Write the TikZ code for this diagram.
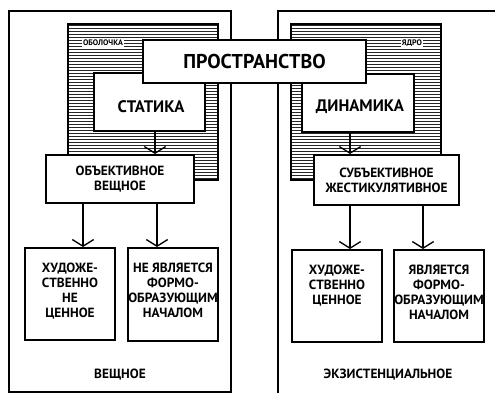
\documentclass[tikz,border=0pt]{standalone}
\usepackage{fontspec}
\setmainfont{PT Sans}
\usetikzlibrary{arrows.meta}

\begin{document}
\begin{tikzpicture}[x=0.75pt,y=-0.75pt,
  box/.style={draw,line width=1.5pt,fill=white,inner sep=0pt},
  big/.style={font=\bfseries\fontsize{12.5}{14}\selectfont,inner sep=0pt},
  lbl/.style={font=\bfseries\fontsize{10}{11.2}\selectfont,align=center,inner sep=0pt},
  tiny/.style={font=\bfseries\fontsize{6}{6}\selectfont,fill=white,inner sep=1pt},
  arr/.style={line width=1pt,-{Straight Barb[length=5pt,width=16pt]}}]
  \useasboundingbox[fill=white] (0,0) rectangle (495,393);
  % outer frames
  \draw[line width=1.2pt] (9,11) rectangle (231,392);
  \draw[line width=1.2pt] (278,393) -- (278,11) -- (495,11);
  % hatched areas
  \foreach \y in {25,28,...,179} {
    \draw[line width=0.4pt,black!85] (68,\y) -- (218,\y);
    \draw[line width=0.4pt,black!85] (291,\y) -- (441,\y);
  }
  \draw[line width=0.8pt] (68,24) rectangle (218,180);
  \draw[line width=0.8pt] (291,24) rectangle (441,180);
  \node[tiny] (shell) at (103,43) {ОБОЛОЧКА};
  \node[tiny] (core) at (412,43) {ЯДРО};
  % second row
  \node[box,minimum width=111*0.75pt,minimum height=58*0.75pt] (statika) at (149.5,102) {};
  \node[big] (statikatext) at (151,107) {СТАТИКА};
  \node[box,minimum width=112*0.75pt,minimum height=58*0.75pt] (dinamika) at (358,103) {};
  \node[big] (dinamikatext) at (360,107) {ДИНАМИКА};
  % top
  \node[box,line width=2.2pt,minimum width=223*0.75pt,minimum height=43*0.75pt,
        font=\bfseries\fontsize{15}{17}\selectfont] (space) at (254.5,61.5) {ПРОСТРАНСТВО};
  % third row
  \node[box,lbl,minimum width=148*0.75pt,minimum height=48*0.75pt] (obj) at (120,179)
    {ОБЪЕКТИВНОЕ\\ВЕЩНОЕ};
  \node[box,lbl,minimum width=145*0.75pt,minimum height=50*0.75pt] (subj) at (386.5,180)
    {СУБЪЕКТИВНОЕ\\ЖЕСТИКУЛЯТИВНОЕ};
  % bottom row
  \node[box,minimum width=90*0.75pt,minimum height=92*0.75pt] (art1) at (70,294) {};
  \node[lbl,anchor=north] (art1text) at ([yshift=-12pt]art1.north) {ХУДОЖЕ-\\СТВЕННО\\НЕ\\ЦЕННОЕ};
  \node[box,minimum width=90*0.75pt,minimum height=93*0.75pt] (form1) at (173,294.5) {};
  \node[lbl,anchor=north] (form1text) at ([yshift=-12pt]form1.north) {НЕ ЯВЛЯЕТСЯ\\ФОРМО-\\ОБРАЗУЮЩИМ\\НАЧАЛОМ};
  \node[box,minimum width=90*0.75pt,minimum height=92*0.75pt] (art2) at (337,296) {};
  \node[lbl,anchor=north] (art2text) at ([yshift=-12pt]art2.north) {ХУДОЖЕ-\\СТВЕННО\\ЦЕННОЕ};
  \node[box,minimum width=90*0.75pt,minimum height=92*0.75pt] (form2) at (439,296) {};
  \node[lbl,anchor=north] (form2text) at ([yshift=-12pt]form2.north) {ЯВЛЯЕТСЯ\\ФОРМО-\\ОБРАЗУЮЩИМ\\НАЧАЛОМ};
  % arrows
  \draw[arr] (statika.south -| 155,0) -- (obj.north -| 155,0);
  \draw[arr] (dinamika.south -| 350,0) -- (subj.north -| 350,0);
  \draw[arr] (obj.south -| 83,0) -- (art1.north -| 83,0);
  \draw[arr] (obj.south -| 157,0) -- (form1.north -| 157,0);
  \draw[arr] (subj.south -| 350,0) -- (art2.north -| 350,0);
  \draw[arr] (subj.south -| 423,0) -- (form2.north -| 423,0);
  % captions
  \node[lbl] (thing) at (120,375) {ВЕЩНОЕ};
  \node[lbl] (exist) at (388,375) {ЭКЗИСТЕНЦИАЛЬНОЕ};
\end{tikzpicture}
\end{document}
